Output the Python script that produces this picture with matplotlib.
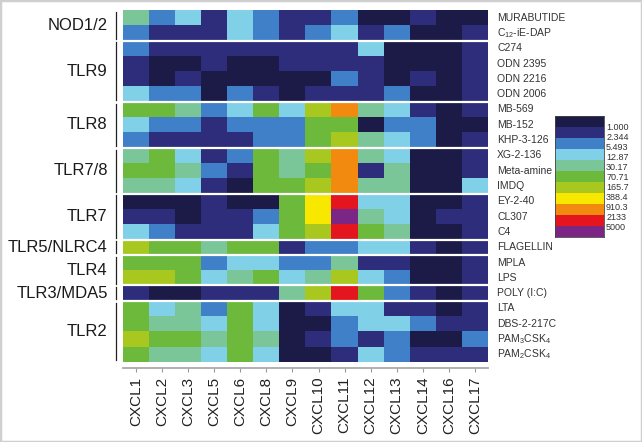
import numpy as np
import matplotlib
matplotlib.use("Agg")
import matplotlib.pyplot as plt
from matplotlib.colors import ListedColormap, BoundaryNorm
from matplotlib.transforms import blended_transform_factory
from matplotlib.patches import Rectangle

plt.rcParams['font.family'] = ['Liberation Sans', 'DejaVu Sans']
plt.rcParams['mathtext.default'] = 'regular'

# chemokines (columns)
genes = ["CXCL1", "CXCL2", "CXCL3", "CXCL5", "CXCL6", "CXCL8", "CXCL9",
         "CXCL10", "CXCL11", "CXCL12", "CXCL13", "CXCL14", "CXCL16", "CXCL17"]

# receptor groups and number of ligands in each
groups = ["NOD1/2", "TLR9", "TLR8", "TLR7/8", "TLR7", "TLR5/NLRC4",
          "TLR4", "TLR3/MDA5", "TLR2"]
group_sizes = [2, 4, 3, 3, 3, 1, 2, 1, 4]

ligands = ["MURABUTIDE", "C$_{12}$-iE-DAP",
           "C274", "ODN 2395", "ODN 2216", "ODN 2006",
           "MB-569", "MB-152", "KHP-3-126",
           "XG-2-136", "Meta-amine", "IMDQ",
           "EY-2-40", "CL307", "C4",
           "FLAGELLIN",
           "MPLA", "LPS",
           "POLY (I:C)",
           "LTA", "DBS-2-217C", "PAM$_3$CSK$_4$", "PAM$_2$CSK$_4$"]

# fold change bins (colour legend)
bin_labels = ["1.000", "2.344", "5.493", "12.87", "30.17", "70.71",
              "165.7", "388.4", "910.3", "2133", "5000"]
bin_colors = ["#1c1b48", "#2e2d7c", "#4080c8", "#80d0e8", "#7ac698",
              "#6cb93b", "#a8c820", "#f8e800", "#f28a10", "#e51520", "#7b2585"]

# bin index per ligand (rows) x chemokine (columns)
levels = [
    [4, 2, 3, 1, 3, 2, 1, 1, 2, 0, 0, 1, 0, 0],
    [2, 1, 1, 1, 3, 2, 1, 2, 3, 1, 2, 0, 0, 1],
    [2, 1, 1, 1, 1, 1, 1, 1, 1, 3, 0, 0, 0, 1],
    [1, 0, 0, 1, 0, 0, 1, 1, 1, 1, 0, 0, 0, 1],
    [1, 0, 1, 0, 0, 0, 0, 0, 2, 1, 0, 1, 0, 1],
    [3, 2, 2, 0, 2, 1, 0, 1, 1, 1, 2, 0, 0, 1],
    [5, 5, 4, 2, 3, 5, 3, 6, 8, 4, 3, 1, 0, 1],
    [3, 2, 2, 1, 2, 2, 2, 5, 5, 0, 2, 2, 0, 0],
    [2, 1, 1, 1, 1, 2, 2, 5, 6, 4, 3, 2, 0, 1],
    [4, 5, 3, 1, 2, 5, 4, 6, 8, 4, 3, 0, 0, 1],
    [5, 5, 4, 2, 1, 5, 4, 5, 8, 1, 4, 0, 0, 1],
    [4, 4, 3, 1, 0, 5, 5, 6, 8, 4, 4, 0, 0, 3],
    [0, 0, 0, 1, 0, 0, 5, 7, 9, 3, 3, 0, 0, 1],
    [1, 1, 0, 1, 1, 2, 5, 7, 10, 4, 3, 0, 1, 1],
    [3, 2, 1, 1, 1, 3, 5, 6, 9, 5, 4, 0, 0, 1],
    [6, 5, 5, 4, 5, 5, 1, 2, 2, 3, 3, 1, 0, 1],
    [5, 5, 5, 2, 3, 3, 2, 2, 4, 1, 1, 0, 0, 1],
    [6, 6, 5, 3, 4, 5, 3, 4, 6, 3, 2, 0, 0, 1],
    [1, 0, 0, 1, 1, 1, 4, 6, 9, 5, 2, 1, 0, 1],
    [5, 3, 4, 2, 5, 3, 0, 1, 3, 3, 1, 1, 0, 1],
    [5, 4, 4, 3, 5, 3, 0, 0, 2, 3, 3, 2, 1, 1],
    [6, 5, 5, 4, 5, 4, 0, 1, 2, 1, 2, 0, 0, 2],
    [5, 4, 4, 3, 5, 3, 0, 0, 1, 3, 2, 1, 1, 1],
]

W, H = 642, 442
fig = plt.figure(figsize=(W / 100, H / 100), dpi=100)

cmap = ListedColormap(bin_colors)
norm = BoundaryNorm(np.arange(-0.5, len(bin_colors) + 0.5), cmap.N)
data = np.array(levels)

ax = fig.add_axes([123 / W, 1 - 362 / H, 365 / W, 352 / H])
ax.imshow(data, cmap=cmap, norm=norm, aspect="auto", interpolation="nearest")

# spine position first: set_position resets the ticks
for s in ["top", "left", "right"]:
    ax.spines[s].set_visible(False)
ax.spines["bottom"].set_position(("outward", 4.5))
ax.spines["bottom"].set_color("#aaaaaa")
ax.spines["bottom"].set_linewidth(1.3)

# white separators between receptor groups
edges = np.cumsum(group_sizes)
for e in edges[:-1]:
    ax.axhline(e - 0.5, color="white", lw=1.6)

trans = blended_transform_factory(ax.transAxes, ax.transData)
start = 0
for g, n in zip(groups, group_sizes):
    top, bot = start - 0.5, start + n - 0.5
    ax.plot([-0.019, -0.019], [top + 0.12, bot - 0.12], color="#222222",
            lw=0.9, transform=trans, clip_on=False)
    ax.text(-0.042, (top + bot) / 2, g, transform=trans, ha="right",
            va="center", fontsize=12, color="#1a1a1a")
    start += n

for i, lab in enumerate(ligands):
    ax.text(1.025, i, lab, transform=trans, ha="left", va="center",
            fontsize=7.5, color="#333333")

ax.set_xticks(np.arange(len(genes)))
ax.set_xticklabels(genes, rotation=90, fontsize=11, color="#222222")
ax.set_yticks([])
ax.tick_params(axis="x", length=3, width=0.8, color="#999999", pad=3)
ax.set_xlim(-0.5, len(genes) - 0.5)
ax.set_ylim(len(ligands) - 0.5, -0.5)

# colour key
cax = fig.add_axes([555 / W, 1 - 237 / H, 49 / W, 121 / H])
cax.imshow(np.arange(len(bin_colors)).reshape(-1, 1), cmap=cmap, norm=norm,
           aspect="auto", interpolation="nearest")
cax.set_xticks([])
cax.set_yticks(np.linspace(10 / 11, 110 / 11, len(bin_labels)) - 0.5)
cax.set_yticklabels(bin_labels, fontsize=6.5, color="#333333")
cax.yaxis.tick_right()
cax.tick_params(axis="y", length=0, pad=1.5)
for s in cax.spines.values():
    s.set_linewidth(0.6)
    s.set_color("#444444")

# light grey frame around the figure
fig.patches.append(Rectangle((0, 0), 1, 1, transform=fig.transFigure,
                             fill=False, edgecolor="#cfcfcf", lw=2.5))

fig.savefig("out.png", dpi=100)
